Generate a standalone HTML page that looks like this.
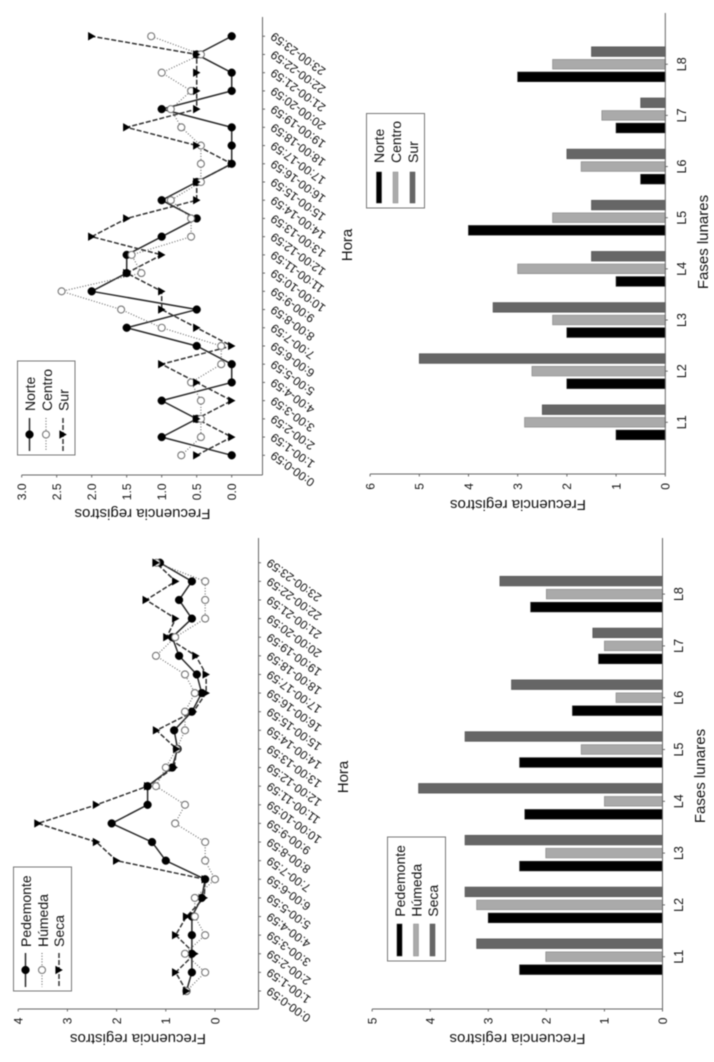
<!DOCTYPE html>
<html lang="es">
<head>
<meta charset="utf-8">
<title>Frecuencia registros</title>
<style>
html,body{margin:0;padding:0;background:#fff;width:714px;height:1062px;overflow:hidden}
svg{display:block;filter:blur(0.4px)}
text{font-family:"Liberation Sans",Arial,sans-serif;fill:#111}
</style>
</head>
<body>
<svg id="figure" xmlns="http://www.w3.org/2000/svg" width="714" height="1062" viewBox="0 0 714 1062">
  <rect x="0" y="0" width="714" height="1062" fill="#fff"/>
  <text transform="translate(352,245) rotate(-90)" text-anchor="middle" font-size="15">Hora</text>
  <text transform="translate(142.5,509) rotate(180)" text-anchor="middle" font-size="15">Frecuencia registros</text>
  <text transform="translate(348,777) rotate(-90)" text-anchor="middle" font-size="15">Hora</text>
  <text transform="translate(138,1034) rotate(180)" text-anchor="middle" font-size="15">Frecuencia registros</text>
  <text transform="translate(708,242) rotate(-90)" text-anchor="middle" font-size="15">Fases lunares</text>
  <text transform="translate(518,500) rotate(180)" text-anchor="middle" font-size="15">Frecuencia registros</text>
  <text transform="translate(705,776) rotate(-90)" text-anchor="middle" font-size="15">Fases lunares</text>
  <text transform="translate(517.5,1034) rotate(180)" text-anchor="middle" font-size="15">Frecuencia registros</text>
</svg>
<script>
const hourLabels = ["0:00-0:59","1:00-1:59","2:00-2:59","3:00-3:59","4:00-4:59","5:00-5:59","6:00-6:59","7:00-7:59","8:00-8:59","9:00-9:59","10:00-10:59","11:00-11:59","12:00-12:59","13:00-13:59","14:00-14:59","15:00-15:59","16:00-16:59","17:00-17:59","18:00-18:59","19:00-19:59","20:00-20:59","21:00-21:59","22:00-22:59","23:00-23:59"];
const lunarPhases = ["L1","L2","L3","L4","L5","L6","L7","L8"];

const norteHourly = [0,1,0.5,1,0,0,0.5,1.5,0.5,2,1.5,1.5,1,0.5,1,0.5,0,0,0,1,0,0,0.5,0];
const centroHourly = [0.72,0.44,0.44,0.44,0.58,0.15,0.15,1,1.58,2.43,1.29,1.43,0.58,0.58,0.87,0.44,0.44,0.44,0.72,0.87,0.58,1,0.44,1.15];
const surHourly = [0.5,0,0.5,0,0.5,1,0,0.5,1,1,1.5,1,2,1.5,0.5,0.5,0,0.5,1.5,0.5,0.5,0.5,0.5,2];

const pedemonteHourly = [0.58,0.47,0.47,0.47,0.47,0.27,0.2,1,1.28,2.1,1.37,1.37,0.87,0.76,0.83,0.47,0.27,0.37,0.73,0.87,0.47,0.73,0.47,1.12];
const humedaHourly = [0.58,0.2,0.61,0.2,0.41,0.41,0,0.2,0.2,0.81,0.61,1.2,1,0.78,0.61,0.61,0.41,0.61,1.2,0.81,0.2,0.2,0.2,1.19];
const secaHourly = [0.58,0.8,0.41,0.8,0.58,0.22,0.2,2,2.41,3.6,2.41,1.37,0.83,0.78,1.19,0.44,0.18,0.18,0.39,0.98,0.8,1.4,0.8,1.2];

const norteLunar = [1,2,2,1,4,0.5,1,3];
const centroLunar = [2.86,2.71,2.29,3,2.29,1.71,1.29,2.29];
const surLunar = [2.5,5,3.5,1.5,1.5,2,0.5,1.5];

const pedemonteLunar = [2.46,3,2.46,2.37,2.46,1.55,1.1,2.27];
const humedaLunar = [2.01,3.2,2.01,1,1.4,0.8,1,2];
const secaLunar = [3.2,3.4,3.4,4.2,3.4,2.6,1.2,2.8];

const ticksNorteLine = ["0.0","0.5","1.0","1.5","2.0","2.5","3.0"];
const ticksPedemonteLine = ["0","1","2","3","4"];
const ticksNorteBar = ["0","1","2","3","4","5","6"];
const ticksPedemonteBar = ["0","1","2","3","4","5"];

const seriesNamesNorte = ["Norte","Centro","Sur"];
const seriesNamesPedemonte = ["Pedemonte","Húmeda","Seca"];

const svg = document.getElementById('figure');
const NS = 'http://www.w3.org/2000/svg';
const AXIS = '#666';

function mk(tag, attrs, parent){
  const el = document.createElementNS(NS, tag);
  for (const k in attrs) el.setAttribute(k, attrs[k]);
  (parent || svg).appendChild(el);
  return el;
}

function drawValueAxis(g, xOf, ticks, axisY, axisEndX, labelEndY){
  const axis = mk('line', {x1: xOf(parseFloat(ticks[ticks.length-1])), x2: axisEndX, y1: axisY, y2: axisY, stroke: AXIS, 'stroke-width': 1}, g);
  
  
  ticks.forEach(function(t){
    const x = xOf(parseFloat(t));
    const tick = mk('line', {x1: x, x2: x, y1: axisY, y2: axisY + 2.5, stroke: AXIS, 'stroke-width': 1}, g);
    
    
    const lab = mk('text', {transform: 'translate(' + (x + 4.3) + ',' + labelEndY + ') rotate(-90)', 'text-anchor': 'end', 'font-size': 12}, g);
    
    
    lab.textContent = t;
  });
}

function drawMarker(g, kind, x, y){
  if (kind === 0) {
    const c = mk('circle', {cx: x, cy: y, r: 3.9, fill: '#000', stroke: '#111', 'stroke-width': 0.5}, g);
    
    
  } else if (kind === 1) {
    const c = mk('circle', {cx: x, cy: y, r: 3.5, fill: '#fff', stroke: '#777', 'stroke-width': 1.1}, g);
    
    
  } else {
    const p = mk('polygon', {points: (x+3.8)+','+y+' '+(x-3.6)+','+(y-4.2)+' '+(x-3.6)+','+(y+4.2), fill: '#000'}, g);
    
    
  }
}

const LINE_STYLES = [
  {stroke: '#2a2a2a', width: 1.5, dash: ''},
  {stroke: '#666', width: 1.1, dash: '1 1.8'},
  {stroke: '#333', width: 1.5, dash: '5 2'}
];
const BAR_STYLES = [
  {fill: '#000', stroke: '#222'},
  {fill: '#aaa', stroke: '#8a8a8a'},
  {fill: '#666', stroke: '#555'}
];

function drawLegendBox(g, box){
  const r = mk('rect', {x: box.x, y: box.y, width: box.w, height: box.h, fill: '#fff', stroke: '#777', 'stroke-width': 1}, g);
  
  
}

function legendText(g, name, x, y){
  const t = mk('text', {transform: 'translate(' + x + ',' + y + ') rotate(-90)', 'font-size': 14}, g);
  
  
  t.textContent = name;
}

function drawLineChart(cfg){
  const g = mk('g', {});
  
  
  const xOf = function(v){ return cfg.x0 - cfg.xScale * v; };
  const yOf = function(i){ return cfg.y0 - cfg.yStep * i; };

  const base = mk('line', {x1: cfg.baseX, x2: cfg.baseX, y1: cfg.baseTop, y2: cfg.axisY, stroke: AXIS, 'stroke-width': 1}, g);
  
  
  drawValueAxis(g, xOf, cfg.ticks, cfg.axisY, cfg.baseX, cfg.labelEndY);

  hourLabels.forEach(function(label, i){
    const y = yOf(i);
    const tick = mk('line', {x1: cfg.baseX, x2: cfg.baseX + 2.5, y1: y, y2: y, stroke: AXIS, 'stroke-width': 1}, g);
    
    
    const t = mk('text', {transform: 'translate(' + (cfg.baseX + 12) + ',' + (y - 4.5) + ') rotate(-144)', 'text-anchor': 'end', 'font-size': 12}, g);
    
    
    t.textContent = label;
  });

  cfg.series.forEach(function(values, s){
    const st = LINE_STYLES[s];
    const pts = values.map(function(v, i){ return xOf(v) + ',' + yOf(i); }).join(' ');
    const line = mk('polyline', {points: pts, fill: 'none', stroke: st.stroke, 'stroke-width': st.width, 'stroke-dasharray': st.dash}, g);
    
    
  });
  cfg.series.forEach(function(values, s){
    values.forEach(function(v, i){ drawMarker(g, s, xOf(v), yOf(i)); });
  });

  const lg = mk('g', {}, g);
  
  
  drawLegendBox(lg, cfg.legend);
  cfg.names.forEach(function(name, s){
    const st = LINE_STYLES[s];
    const cx = cfg.legend.rowX[s];
    const sample = mk('line', {x1: cx, x2: cx, y1: cfg.legend.lineTop, y2: cfg.legend.lineBottom, stroke: st.stroke, 'stroke-width': st.width, 'stroke-dasharray': st.dash}, lg);
    
    
    drawMarker(lg, s, cx, (cfg.legend.lineTop + cfg.legend.lineBottom) / 2);
    legendText(lg, name, cfg.legend.textX[s], cfg.legend.textY);
  });
}

function drawBarChart(cfg){
  const g = mk('g', {});
  
  
  const xOf = function(v){ return cfg.x0 - cfg.xScale * v; };
  const yOf = function(i){ return cfg.y0 - cfg.yStep * i; };

  cfg.series.forEach(function(values, s){
    values.forEach(function(v, i){
      const cy = yOf(i) + (1 - s) * cfg.barStep;
      const x = xOf(v);
      const st = BAR_STYLES[s];
      const bar = mk('rect', {x: x, y: cy - 4.8, width: cfg.x0 - x, height: 9.6, fill: st.fill, stroke: st.stroke, 'stroke-width': 0.7}, g);
      
      
    });
  });

  const base = mk('line', {x1: cfg.x0, x2: cfg.x0, y1: cfg.baseTop, y2: cfg.axisY, stroke: AXIS, 'stroke-width': 1}, g);
  
  
  drawValueAxis(g, xOf, cfg.ticks, cfg.axisY, cfg.x0, cfg.labelEndY);

  lunarPhases.forEach(function(label, i){
    const y = yOf(i);
    const tick = mk('line', {x1: cfg.x0, x2: cfg.x0 + 2.5, y1: y, y2: y, stroke: AXIS, 'stroke-width': 1}, g);
    
    
    const t = mk('text', {transform: 'translate(' + (cfg.x0 + 20.5) + ',' + y + ') rotate(-90)', 'text-anchor': 'middle', 'font-size': 12.5}, g);
    
    
    t.textContent = label;
  });

  const lg = mk('g', {}, g);
  
  
  drawLegendBox(lg, cfg.legend);
  cfg.names.forEach(function(name, s){
    const st = BAR_STYLES[s];
    const sw = mk('rect', {x: cfg.legend.rowX[s] - 2.5, y: cfg.legend.lineTop, width: 5, height: cfg.legend.lineBottom - cfg.legend.lineTop, fill: st.fill, stroke: st.stroke, 'stroke-width': 0.5}, lg);
    
    
    legendText(lg, name, cfg.legend.textX[s], cfg.legend.textY);
  });
}

drawLineChart({
  name: 'line-chart-norte-centro-sur',
  x0: 231.7, xScale: 70, y0: 455.3, yStep: 18.22,
  baseX: 262.5, baseTop: 17, axisY: 475, labelEndY: 483.5,
  ticks: ticksNorteLine, names: seriesNamesNorte,
  series: [norteHourly, centroHourly, surHourly],
  legend: {x: 17.5, y: 361, w: 57.5, h: 94, rowX: [29.5, 46, 63], textX: [35, 52, 68.5], textY: 411, lineTop: 418, lineBottom: 451}
});

drawLineChart({
  name: 'line-chart-pedemonte-humeda-seca',
  x0: 215, xScale: 49.2, y0: 991, yStep: 18.62,
  baseX: 258.5, baseTop: 538, axisY: 1009, labelEndY: 1017.5,
  ticks: ticksPedemonteLine, names: seriesNamesPedemonte,
  series: [pedemonteHourly, humedaHourly, secaHourly],
  legend: {x: 13.5, y: 867, w: 58, h: 124, rowX: [25.5, 42, 59], textX: [31, 48, 64], textY: 947, lineTop: 953, lineBottom: 987}
});

drawBarChart({
  name: 'bar-chart-norte-centro-sur',
  x0: 665.3, xScale: 49.2, y0: 422.3, yStep: 51.15, barStep: 12.6,
  baseTop: 13, axisY: 474, labelEndY: 483,
  ticks: ticksNorteBar, names: seriesNamesNorte,
  series: [norteLunar, centroLunar, surLunar],
  legend: {x: 366.5, y: 113.5, w: 58, h: 94.5, rowX: [379, 395.5, 412.5], textX: [384, 401, 418], textY: 163, lineTop: 172, lineBottom: 203}
});

drawBarChart({
  name: 'bar-chart-pedemonte-humeda-seca',
  x0: 662.5, xScale: 58.07, y0: 956.7, yStep: 51.8, barStep: 13,
  baseTop: 538, axisY: 1009, labelEndY: 1017.5,
  ticks: ticksPedemonteBar, names: seriesNamesPedemonte,
  series: [pedemonteLunar, humedaLunar, secaLunar],
  legend: {x: 387.5, y: 837, w: 58, h: 124, rowX: [399.5, 416, 432.5], textX: [405, 421.5, 438], textY: 916.7, lineTop: 924, lineBottom: 956}
});
</script>
</body>
</html>
